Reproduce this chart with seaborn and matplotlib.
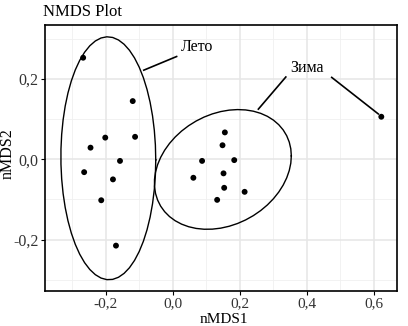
import numpy as np
import pandas as pd
import matplotlib
matplotlib.use("Agg")
import matplotlib.pyplot as plt
from matplotlib.ticker import FixedLocator, FuncFormatter
import seaborn as sns

season = ["Лето"] * 10 + ["Зима"] * 10
nmds1 = [-0.268, -0.120, -0.202, -0.113, -0.246, -0.158, -0.265, -0.179, -0.214, -0.170,
         0.155, 0.148, 0.087, 0.183, 0.061, 0.151, 0.153, 0.214, 0.132, 0.622]
nmds2 = [0.253, 0.145, 0.054, 0.056, 0.029, -0.004, -0.032, -0.050, -0.102, -0.215,
         0.067, 0.035, -0.004, -0.002, -0.046, -0.035, -0.071, -0.081, -0.101, 0.106]
x_ticks = [-0.2, 0.0, 0.2, 0.4, 0.6]
y_ticks = [-0.2, 0.0, 0.2]

df = pd.DataFrame({"season": season, "nMDS1": nmds1, "nMDS2": nmds2})


def cov_trob(x, nu=5, maxit=25, tol=0.01):
    n, p = x.shape
    wt = np.ones(n)
    loc = x.mean(axis=0)
    w = np.sqrt(wt)
    for _ in range(maxit):
        w0 = w
        X = x - loc
        _, d, vt = np.linalg.svd(np.sqrt(w / w.sum())[:, None] * X, full_matrices=False)
        wX = X @ vt.T @ np.diag(1 / d)
        Q = (wX ** 2).sum(axis=1)
        w = (wt * (nu + p)) / (nu + Q)
        loc = (w[:, None] * x).sum(axis=0) / w.sum()
        if np.all(np.abs(w - w0) < tol):
            break
    X = x - loc
    cov = (np.sqrt(w)[:, None] * X).T @ (np.sqrt(w)[:, None] * X) / wt.sum()
    return loc, cov


def stat_ellipse(x, level=0.95, segments=51):
    n = x.shape[0]
    loc, cov = cov_trob(x)
    dfd = n - 1
    fq = (dfd / 2.0) * ((1 - level) ** (-2.0 / dfd) - 1)
    radius = np.sqrt(2 * fq)
    ch = np.linalg.cholesky(cov).T
    ang = np.linspace(0, 2 * np.pi, segments + 1)
    circ = np.column_stack([np.cos(ang), np.sin(ang)])
    return loc + radius * circ @ ch


ell_frames = []
for s in ["Лето", "Зима"]:
    sub = df[df.season == s][["nMDS1", "nMDS2"]].to_numpy()
    e = stat_ellipse(sub)
    ell_frames.append(pd.DataFrame({"nMDS1": e[:, 0], "nMDS2": e[:, 1], "season": s,
                                    "order": np.arange(len(e))}))
ell = pd.concat(ell_frames, ignore_index=True)

fig = plt.figure(figsize=(4.08, 3.26), dpi=100)
ax = fig.add_axes([0.111, 0.1064, 0.863, 0.8169])
serif = "Liberation Serif"

ax.set_xlim(-0.381, 0.67)
ax.set_ylim(-0.3288, 0.3345)
ax.set_axisbelow(True)
for v in [-0.3, -0.1, 0.1, 0.3, 0.5]:
    ax.axvline(v, color="#f0f0f0", lw=0.6, zorder=0)
for v in [-0.3, -0.1, 0.1, 0.3]:
    ax.axhline(v, color="#f0f0f0", lw=0.6, zorder=0)
for v in x_ticks:
    ax.axvline(v, color="#e6e6e6", lw=1.1, zorder=0)
for v in y_ticks:
    ax.axhline(v, color="#e6e6e6", lw=1.1, zorder=0)

sns.lineplot(data=ell, x="nMDS1", y="nMDS2", units="season", estimator=None, sort=False,
             color="black", lw=1.0, ax=ax, legend=False)
sns.scatterplot(data=df, x="nMDS1", y="nMDS2", color="black", s=18, edgecolor="none",
                ax=ax, legend=False, zorder=3)

# annotations
ax.text(0.024, 0.280, "Лето", fontsize=11.5, family=serif, va="center", ha="left")
ax.plot([-0.087, 0.011], [0.222, 0.256], color="black", lw=1.2)
ax.text(0.400, 0.227, "Зима", fontsize=11.5, family=serif, va="center", ha="center")
ax.plot([0.337, 0.255], [0.205, 0.125], color="black", lw=1.2)
ax.plot([0.474, 0.613], [0.204, 0.113], color="black", lw=1.2)

fmt = FuncFormatter(lambda v, p: ("%.1f" % v).replace(".", ",").replace("-0,0", "0,0"))
ax.xaxis.set_major_locator(FixedLocator(x_ticks))
ax.yaxis.set_major_locator(FixedLocator(y_ticks))
ax.xaxis.set_major_formatter(fmt)
ax.yaxis.set_major_formatter(fmt)
ax.tick_params(length=3, width=0.8, color="black", labelsize=11.5, pad=2)
ax.tick_params(axis="x", pad=1, labelsize=11)
for lab in ax.get_xticklabels() + ax.get_yticklabels():
    lab.set_family(serif)
    lab.set_color("#333333")
for sp in ax.spines.values():
    sp.set_color("black")
    sp.set_linewidth(1.2)
    sp.set_visible(True)
ax.grid(False)
ax.set_xlabel("")
ax.set_ylabel("")
fig.text(224 / 408, 1 - 319.5 / 326, "nMDS1", family=serif, fontsize=11,
         va="center", ha="center")
fig.text(8 / 408, 1 - 154 / 326, "nMDS2", family=serif, fontsize=11.5,
         va="center", ha="center", rotation=90)
fig.text(43 / 408, 1 - 11.7 / 326, "NMDS Plot", family=serif, fontsize=12, va="center", ha="left")

fig.savefig("out.png", dpi=100)
